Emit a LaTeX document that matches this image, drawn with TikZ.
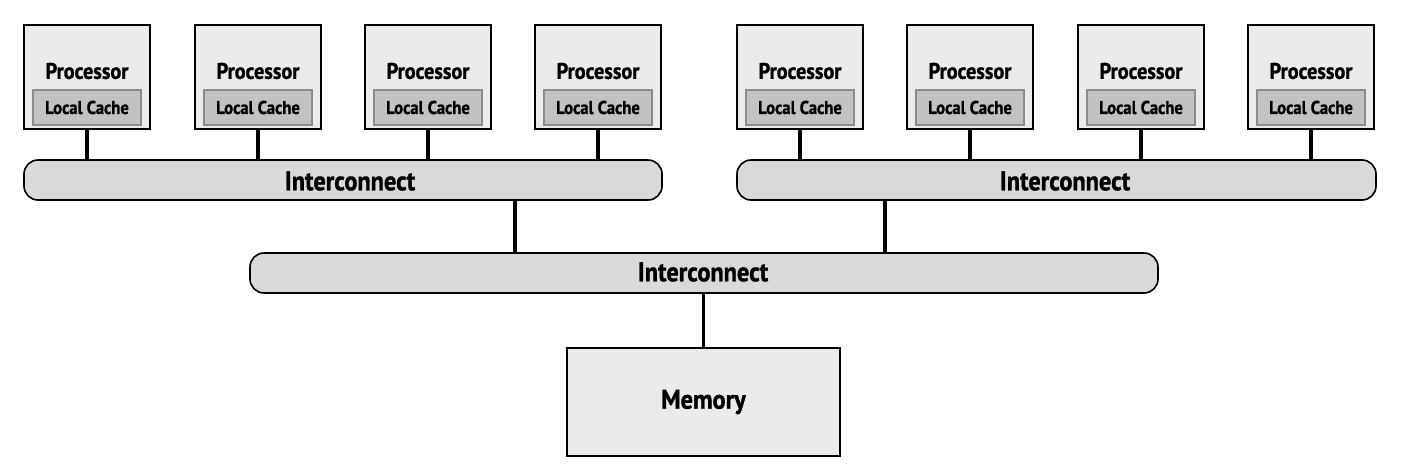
\documentclass[tikz,border=0pt]{standalone}
\usepackage{fontspec}
\setmainfont{PT Sans}[FakeStretch=0.9,BoldFeatures={FakeBold=1.2}]
\begin{document}
\begin{tikzpicture}[x=1pt,y=-1pt,
  proc/.style={draw=black,line width=1.6pt,fill=procfill,minimum width=126pt,minimum height=104pt,inner sep=0pt},
  cache/.style={draw=cachedraw,line width=1.2pt,fill=cachefill,minimum width=108pt,minimum height=35pt,inner sep=0pt,font=\fontsize{18.5}{18.5}\selectfont\bfseries},
  bar/.style={draw=black,line width=1.6pt,fill=barfill,rounded corners=14pt,inner sep=0pt,minimum height=40pt},
  barlbl/.style={inner sep=0pt,font=\fontsize{27}{27}\selectfont\bfseries},
  link/.style={line width=3.2pt,draw=black},
  lbl/.style={font=\fontsize{22.5}{22.5}\selectfont\bfseries,inner sep=0pt}]
\definecolor{procfill}{HTML}{EBEBEB}
\definecolor{cachefill}{HTML}{C2C2C2}
\definecolor{cachedraw}{HTML}{8C8C8C}
\definecolor{barfill}{HTML}{D9D9D9}
\useasboundingbox (0,0) rectangle (1414,464);
% processors
\foreach \i/\x in {1/87,2/258,3/428,4/598,5/800,6/970,7/1141,8/1311}{
  \node[proc] (p\i) at (\x,77) {};
  \node[cache] (c\i) at (\x,107.5) {Local Cache};
  \node[lbl] (t\i) at (\x,71) {Processor};
}
% bars
\node[bar,minimum width=638pt] (b1) at (343,180) {};
\node[barlbl] (l1) at (350,181) {Interconnect};
\node[bar,minimum width=639pt] (b2) at (1056.5,180) {};
\node[barlbl] (l2) at (1065,181) {Interconnect};
\node[bar,minimum width=908pt] (b3) at (704,273) {};
\node[barlbl] (l3) at (703,272) {Interconnect};
\node[draw=black,line width=1.6pt,fill=procfill,minimum width=273pt,minimum height=108pt,inner sep=0pt,font=\fontsize{27}{27}\selectfont\bfseries] (mem) at (703.5,402) {Memory};
% links
\foreach \i in {1,...,4}{\draw[link] (p\i.south) -- (p\i.south |- b1.north);}
\foreach \i in {5,...,8}{\draw[link] (p\i.south) -- (p\i.south |- b2.north);}
\draw[link] (b1.south -| 515,0) -- (b3.north -| 515,0);
\draw[link] (b2.south -| 885,0) -- (b3.north -| 885,0);
\draw[link] (b3.south -| mem.north) -- (mem.north);
\end{tikzpicture}
\end{document}
